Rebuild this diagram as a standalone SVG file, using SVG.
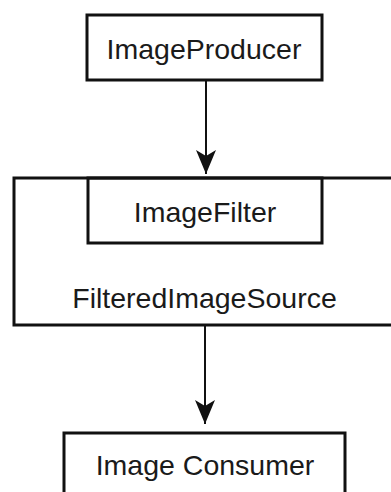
<svg xmlns="http://www.w3.org/2000/svg" width="391" height="492" viewBox="0 0 391 492">
  <defs>
    <style>
      .box { fill: none; stroke: #111; stroke-width: 3; }
      .label { font-family: "Liberation Sans", Arial, sans-serif; font-size: 28.5px; fill: #1a1a1a; text-anchor: middle; }
      .edge { stroke: #111; stroke-width: 2; fill: none; }
    </style>
    <marker id="arrow" viewBox="0 0 24 20" refX="24" refY="10" markerWidth="24" markerHeight="20" markerUnits="userSpaceOnUse" orient="auto">
      <path d="M0,0 L6,10 L0,20 L24,10 Z" fill="#111"/>
    </marker>
  </defs>
  <rect width="391" height="492" fill="#fff"/>

  <g id="connectors">
    <line class="edge" x1="206" y1="80" x2="206" y2="174" marker-end="url(#arrow)"/>
    <line class="edge" x1="205" y1="325" x2="205" y2="424" marker-end="url(#arrow)"/>
  </g>

  <g id="image-producer">
    <rect class="box" x="87" y="15" width="235" height="65"/>
    <text class="label" x="204" y="59">ImageProducer</text>
  </g>

  <g id="filtered-image-source">
    <rect class="box" x="14" y="178" width="390" height="147"/>
    <text class="label" x="204.5" y="308">FilteredImageSource</text>
  </g>

  <g id="image-filter">
    <rect class="box" x="88" y="178" width="234" height="65"/>
    <text class="label" x="205" y="222">ImageFilter</text>
  </g>

  <g id="image-consumer">
    <rect class="box" x="64" y="433" width="281" height="80"/>
    <text class="label" x="205" y="475">Image Consumer</text>
  </g>
</svg>
